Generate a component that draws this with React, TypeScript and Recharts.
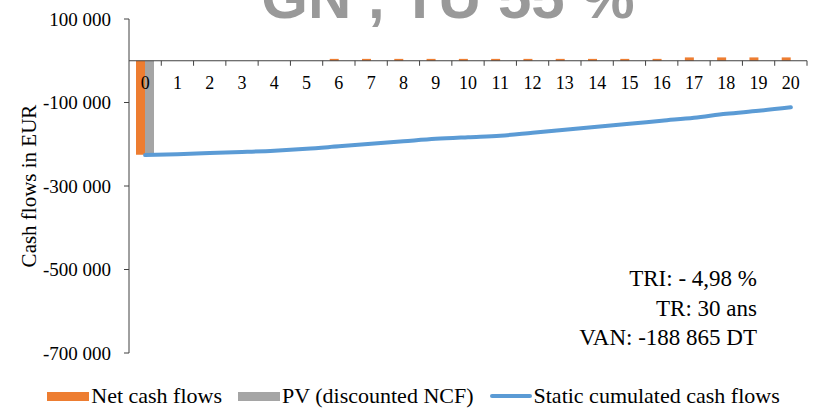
import { ComposedChart, Bar, Line, XAxis, YAxis, ReferenceLine, Legend } from 'recharts'

const years = ['0', '1', '2', '3', '4', '5', '6', '7', '8', '9', '10', '11', '12', '13', '14', '15', '16', '17', '18', '19', '20']
const netCashFlows = [-225000, 0, 0, 0, 0, 0, 4500, 4500, 4500, 4500, 4500, 4500, 4500, 4500, 4500, 4500, 4500, 8000, 8000, 8000, 8000]
const discounted = [-225000, 0, 0, 0, 0, 0, 0, 0, 0, 0, 0, 0, 0, 0, 0, 0, 0, 0, 0, 0, 0]
const cumulated = [-226000, -224000, -221000, -218500, -215500, -211000, -205000, -199000, -193000, -187000, -183000, -179500, -172500, -165500, -158000, -151000, -143500, -136500, -127000, -120000, -111500]
const yTicks = [-700000, -500000, -300000, -100000, 100000]
const notes = ['TRI: - 4,98 %', 'TR: 30 ans', 'VAN: -188 865 DT']
const title = 'GN , TU 55 %'

const data = years.map((y, i) => ({ year: y, ncf: netCashFlows[i], pv: discounted[i], cum: cumulated[i] }))

const W = 827
const H = 412
const X_AXIS_H = 30
const LEGEND_H = 26
const M = { top: 19, right: 20, bottom: 3, left: 0 }
const Y_AXIS_W = 129
const PLOT_W = W - M.left - M.right - Y_AXIS_W
const PLOT_H = H - M.top - M.bottom - LEGEND_H - X_AXIS_H
const Y_MIN = -700000
const Y_MAX = 100000
const ZERO_Y = M.top + (PLOT_H * Y_MAX) / (Y_MAX - Y_MIN)
const BAND = PLOT_W / years.length

const SERIF = '"Liberation Serif", "Times New Roman", serif'
const AXIS = '#404040'

const fmt = (v: number) => {
  const s = Math.abs(v).toString().replace(/\B(?=(\d{3})+(?!\d))/g, ' ')
  return (v < 0 ? '-' : '') + s
}

const XTick = (props: any) => {
  const { x, payload } = props
  return (
    <g>
      <text x={x} y={ZERO_Y + 28} textAnchor="middle" fontSize={18} fontFamily={SERIF} fill="#000">
        {payload.value}
      </text>
      <line x1={x + BAND / 2} x2={x + BAND / 2} y1={ZERO_Y} y2={ZERO_Y + 5} stroke={AXIS} strokeWidth={1} />
    </g>
  )
}

const legendItems = [
  { label: 'Net cash flows', color: '#ED7D31', h: 9, r: 0 },
  { label: 'PV (discounted NCF)', color: '#A5A5A5', h: 9, r: 0 },
  { label: 'Static cumulated cash flows', color: '#5B9BD5', h: 4, r: 2 },
]

const LegendContent = () => (
  <div style={{ display: 'flex', justifyContent: 'center', alignItems: 'center', height: LEGEND_H, fontFamily: SERIF, fontSize: 22, color: '#000' }}>
    {legendItems.map((it) => (
      <div key={it.label} style={{ display: 'flex', alignItems: 'center', margin: '0 8px' }}>
        <span style={{ display: 'inline-block', width: 42, height: it.h, background: it.color, borderRadius: it.r, marginRight: 2 }} />
        <span>{it.label}</span>
      </div>
    ))}
  </div>
)

export default function App() {
  return (
    <div style={{ position: 'absolute', left: 0, top: 0, width: W, height: H, background: '#fff' }}>
      <ComposedChart width={W} height={H} data={data} margin={M} barGap={0}>
        <YAxis
          width={Y_AXIS_W}
          domain={[Y_MIN, Y_MAX]}
          ticks={yTicks}
          interval={0}
          tickFormatter={fmt}
          tick={{ fontSize: 19, fill: '#000', fontFamily: SERIF }}
          tickSize={5}
          tickMargin={13}
          axisLine={{ stroke: AXIS }}
          tickLine={{ stroke: AXIS }}
          label={{ value: 'Cash flows in EUR', angle: -90, position: 'center', dx: -36, style: { fontSize: 21, fontFamily: SERIF, fill: '#000' } }}
        />
        <Bar dataKey="ncf" name="Net cash flows" fill="#ED7D31" barSize={9} isAnimationActive={false} />
        <Bar dataKey="pv" name="PV (discounted NCF)" fill="#A5A5A5" barSize={9} isAnimationActive={false} />
        <ReferenceLine y={0} stroke={AXIS} strokeWidth={1} />
        <XAxis dataKey="year" height={X_AXIS_H} interval={0} axisLine={false} tickLine={false} tick={(p: any) => <XTick {...p} />} />
        <Line
          type="monotone"
          dataKey="cum"
          name="Static cumulated cash flows"
          stroke="#5B9BD5"
          strokeWidth={4}
          strokeLinecap="round"
          dot={false}
          isAnimationActive={false}
        />
        <Legend verticalAlign="bottom" content={<LegendContent />} wrapperStyle={{ bottom: 3, left: 0, width: W }} />
      </ComposedChart>
      <svg width={W} height={H} style={{ position: 'absolute', left: 0, top: 0, pointerEvents: 'none' }}>
        <text x={448} y={18} textAnchor="middle" fontSize={60} fontWeight="bold" fontFamily='"Liberation Sans", Arial, sans-serif' fill="#999999">
          {title}
        </text>
        {notes.map((n, i) => (
          <text key={n} x={757} y={286 + i * 29.5} textAnchor="end" fontSize={23} fontFamily={SERIF} fill="#000">
            {n}
          </text>
        ))}
      </svg>
    </div>
  )
}
